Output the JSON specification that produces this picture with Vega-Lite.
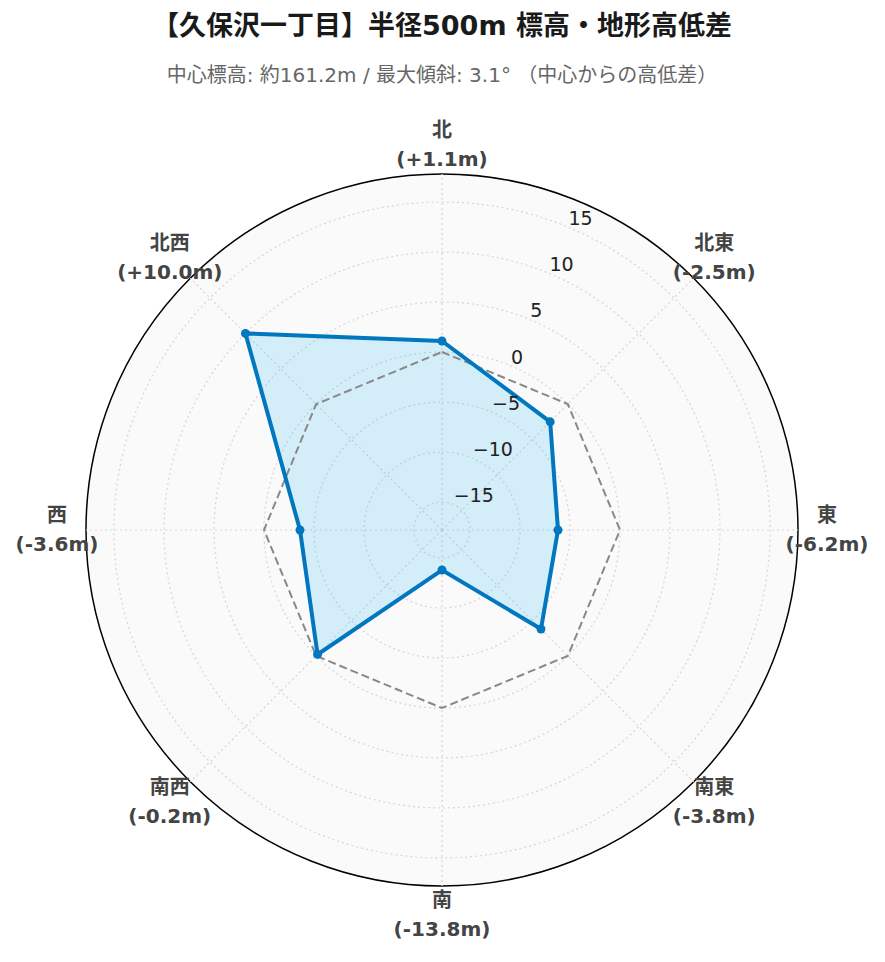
{
  "$schema": "https://vega.github.io/schema/vega-lite/v6.json",
  "width": 712,
  "height": 712,
  "autosize": {"type": "none"},
  "padding": {"left": 86, "top": 174, "right": 87, "bottom": 76},
  "background": "white",
  "title": {
    "text": "【久保沢一丁目】半径500m 標高・地形高低差",
    "subtitle": "中心標高: 約161.2m / 最大傾斜: 3.1° （中心からの高低差）",
    "anchor": "middle",
    "offset": 34,
    "font": "DejaVu Sans, Noto Sans CJK JP",
    "fontSize": 27,
    "fontWeight": "bold",
    "color": "#1a1a1a",
    "subtitleFont": "DejaVu Sans, Noto Sans CJK JP",
    "subtitleFontSize": 20,
    "subtitleColor": "#666666",
    "subtitlePadding": 25
  },
  "config": {
    "view": {"stroke": null},
    "axis": {"domain": false}
  },
  "datasets": {
    "dirs": [
      {"dir": "北", "value": 1.1},
      {"dir": "北東", "value": -2.5},
      {"dir": "東", "value": -6.2},
      {"dir": "南東", "value": -3.8},
      {"dir": "南", "value": -13.8},
      {"dir": "南西", "value": -0.2},
      {"dir": "西", "value": -3.6},
      {"dir": "北西", "value": 10.0}
    ],
    "ticks": [
      {"tick": -15}, {"tick": -10}, {"tick": -5}, {"tick": 0},
      {"tick": 5}, {"tick": 10}, {"tick": 15}
    ]
  },
  "layer": [
    {
      "data": {"values": [{"outer": 17.8}]},
      "mark": {"type": "arc", "theta": 0, "theta2": 6.2832, "fill": "#fafafa", "stroke": "#000000", "strokeWidth": 1.5},
      "encoding": {
        "radius": {"field": "outer", "type": "quantitative", "stack": null, "scale": {"type": "linear", "domain": [-17.8, 17.8], "range": [0, 356], "zero": false, "nice": false}},
        "radius2": {"datum": -17.8}
      }
    },
    {
      "data": {"name": "ticks"},
      "mark": {"type": "arc", "theta": 0, "theta2": 6.2832, "fill": null, "stroke": "#d6d6d6", "strokeWidth": 1.2, "strokeDash": [2, 3]},
      "encoding": {
        "radius": {"field": "tick", "type": "quantitative", "stack": null},
        "radius2": {"datum": -17.8}
      }
    },
    {
      "data": {"name": "dirs"},
      "transform": [
        {"window": [{"op": "row_number", "as": "i"}]},
        {"calculate": "(datum.i - 1) * PI / 4", "as": "a"},
        {"calculate": "35.6 * sin(datum.a)", "as": "ox"},
        {"calculate": "35.6 * cos(datum.a)", "as": "oy"},
        {"calculate": "0", "as": "c"}
      ],
      "mark": {"type": "rule", "stroke": "#d6d6d6", "strokeWidth": 1.2, "strokeDash": [2, 3]},
      "encoding": {
        "x": {"field": "c", "type": "quantitative", "scale": {"domain": [-35.6, 35.6], "nice": false, "zero": false}, "axis": null},
        "y": {"field": "c", "type": "quantitative", "scale": {"domain": [-35.6, 35.6], "nice": false, "zero": false}, "axis": null},
        "x2": {"field": "ox"},
        "y2": {"field": "oy"}
      }
    },
    {
      "data": {"name": "dirs"},
      "transform": [
        {"window": [{"op": "row_number", "as": "i"}]},
        {"calculate": "(datum.i - 1) * PI / 4", "as": "a"},
        {"calculate": "(datum.value + 17.8) * sin(datum.a)", "as": "x"},
        {"calculate": "(datum.value + 17.8) * cos(datum.a)", "as": "y"}
      ],
      "mark": {"type": "line", "interpolate": "linear-closed", "filled": true, "fill": "#37b9f5", "fillOpacity": 0.2, "strokeWidth": 0},
      "encoding": {
        "x": {"field": "x", "type": "quantitative"},
        "y": {"field": "y", "type": "quantitative"},
        "order": {"field": "i", "type": "quantitative"}
      }
    },
    {
      "data": {"name": "dirs"},
      "transform": [
        {"window": [{"op": "row_number", "as": "i"}]},
        {"calculate": "(datum.i - 1) * PI / 4", "as": "a"},
        {"calculate": "17.8 * sin(datum.a)", "as": "x"},
        {"calculate": "17.8 * cos(datum.a)", "as": "y"}
      ],
      "mark": {"type": "line", "interpolate": "linear-closed", "stroke": "#888888", "strokeWidth": 2, "strokeDash": [8, 4]},
      "encoding": {
        "x": {"field": "x", "type": "quantitative"},
        "y": {"field": "y", "type": "quantitative"},
        "order": {"field": "i", "type": "quantitative"}
      }
    },
    {
      "data": {"name": "dirs"},
      "transform": [
        {"window": [{"op": "row_number", "as": "i"}]},
        {"calculate": "(datum.i - 1) * PI / 4", "as": "a"},
        {"calculate": "(datum.value + 17.8) * sin(datum.a)", "as": "x"},
        {"calculate": "(datum.value + 17.8) * cos(datum.a)", "as": "y"}
      ],
      "mark": {"type": "line", "interpolate": "linear-closed", "stroke": "#0077be", "strokeWidth": 4},
      "encoding": {
        "x": {"field": "x", "type": "quantitative"},
        "y": {"field": "y", "type": "quantitative"},
        "order": {"field": "i", "type": "quantitative"}
      }
    },
    {
      "data": {"name": "dirs"},
      "transform": [
        {"window": [{"op": "row_number", "as": "i"}]},
        {"calculate": "(datum.i - 1) * PI / 4", "as": "a"},
        {"calculate": "(datum.value + 17.8) * sin(datum.a)", "as": "x"},
        {"calculate": "(datum.value + 17.8) * cos(datum.a)", "as": "y"}
      ],
      "mark": {"type": "point", "filled": true, "color": "#0077be", "opacity": 1, "size": 80},
      "encoding": {
        "x": {"field": "x", "type": "quantitative"},
        "y": {"field": "y", "type": "quantitative"}
      }
    },
    {
      "data": {"name": "ticks"},
      "transform": [
        {"calculate": "(datum.tick + 17.8) * sin(PI / 8)", "as": "x"},
        {"calculate": "(datum.tick + 17.8) * cos(PI / 8)", "as": "y"},
        {"calculate": "format(datum.tick, 'd')", "as": "label"}
      ],
      "mark": {"type": "text", "align": "left", "baseline": "alphabetic", "dx": 1, "dy": -2, "font": "DejaVu Sans", "fontSize": 19, "color": "#222222"},
      "encoding": {
        "x": {"field": "x", "type": "quantitative"},
        "y": {"field": "y", "type": "quantitative"},
        "text": {"field": "label"}
      }
    },
    {
      "data": {"name": "dirs"},
      "transform": [
        {"window": [{"op": "row_number", "as": "i"}]},
        {"calculate": "(datum.i - 1) * PI / 4", "as": "a"},
        {"calculate": "38.5 * sin(datum.a)", "as": "x"},
        {"calculate": "38.5 * cos(datum.a)", "as": "y"},
        {"calculate": "datum.dir + '\\n(' + (datum.value >= 0 ? '+' : '-') + format(abs(datum.value), '.1f') + 'm)'", "as": "label"}
      ],
      "mark": {"type": "text", "align": "center", "baseline": "middle", "dy": -14, "lineBreak": "\n", "lineHeight": 29, "font": "DejaVu Sans, Noto Sans CJK JP", "fontSize": 20, "fontWeight": "bold", "color": "#444444"},
      "encoding": {
        "x": {"field": "x", "type": "quantitative"},
        "y": {"field": "y", "type": "quantitative"},
        "text": {"field": "label"}
      }
    }
  ]
}
